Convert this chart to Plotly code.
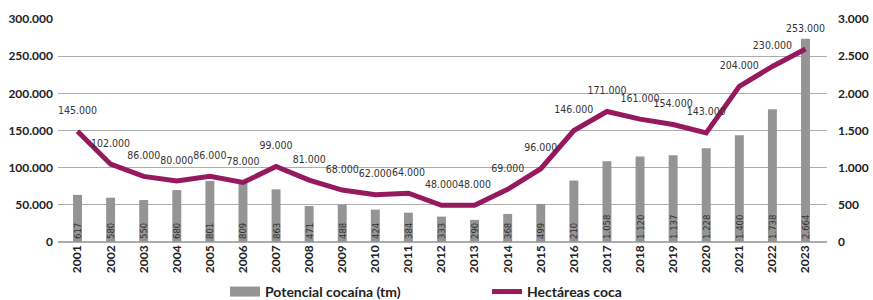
import plotly.graph_objects as go

years = [str(y) for y in range(2001, 2024)]
hectareas = [145000, 102000, 86000, 80000, 86000, 78000, 99000, 81000, 68000, 62000, 64000,
             48000, 48000, 69000, 96000, 146000, 171000, 161000, 154000, 143000, 204000, 230000, 253000]
cocaina_labels = [617, 580, 550, 680, 801, 809, 863, 471, 488, 424, 384,
                  333, 290, 368, 499, 210, 1058, 1120, 1137, 1228, 1400, 1738, 2664]
# bar heights as drawn in the picture (two bars differ from their printed labels)
cocaina_bars = [617, 580, 550, 680, 801, 809, 690, 471, 488, 424, 384,
                333, 290, 368, 499, 805, 1058, 1120, 1137, 1228, 1400, 1738, 2664]
left_ticks = [0, 50000, 100000, 150000, 200000, 250000, 300000]
right_ticks = [0, 500, 1000, 1500, 2000, 2500, 3000]

BAR_COLOR = "#949494"
LINE_COLOR = "#96185E"
SCALE = 0.974  # data scale vs. printed gridlines in the original picture
TICK_FONT = dict(family="Lato", size=12, color="#222222", weight="bold")
NARROW = "Liberation Sans Narrow, DejaVu Sans Condensed, Liberation Sans, sans-serif"

def fmt(v):
    return f"{v:,}".replace(",", ".")

fig = go.Figure()

# legend proxies
fig.add_trace(go.Scatter(x=[None], y=[None], mode="lines", name="Potencial cocaína (tm)",
                         line=dict(color=BAR_COLOR, width=10), yaxis="y2", hoverinfo="skip"))
fig.add_trace(go.Scatter(x=[None], y=[None], mode="lines", name="Hectáreas coca",
                         line=dict(color=LINE_COLOR, width=5), yaxis="y", hoverinfo="skip"))

bar_font = dict(family=NARROW, size=9.5, color="#333333")
fig.add_trace(go.Bar(
    x=years, y=cocaina_bars, yaxis="y3", marker=dict(color=BAR_COLOR, line=dict(width=0)),
    width=0.27, text=[fmt(v) for v in cocaina_labels], textposition="inside",
    insidetextanchor="start", textangle=-90, constraintext="none",
    textfont=bar_font, insidetextfont=bar_font, showlegend=False,
    cliponaxis=False))

fig.add_trace(go.Scatter(
    x=years, y=hectareas, yaxis="y4", mode="lines",
    line=dict(color=LINE_COLOR, width=5), showlegend=False))
fig.add_trace(go.Scatter(
    x=years, y=hectareas, yaxis="y4", mode="markers+text",
    marker=dict(size=22, color="rgba(0,0,0,0)"),
    text=[fmt(v) for v in hectareas], textposition="top center",
    textfont=dict(family=NARROW, size=10.5, color="#333333"),
    showlegend=False, cliponaxis=False))

fig.update_layout(
    width=873, height=300,
    margin=dict(l=58, r=46, t=19, b=57.5, autoexpand=False),
    paper_bgcolor="white", plot_bgcolor="white",
    showlegend=True,
    legend=dict(orientation="h", x=(225 - 58) / 769, xanchor="left", y=-0.224, yanchor="middle",
                font=dict(family="Lato", size=14, color="#222222", weight="bold"),
                entrywidth=217, entrywidthmode="pixels", traceorder="normal"),
    xaxis=dict(type="category", range=[-0.59, 22.65], tickangle=-90, showgrid=False,
               tickfont=TICK_FONT, ticks="", showline=False, automargin=False),
    yaxis=dict(range=[0, 300000], tickvals=left_ticks, ticktext=[fmt(v) for v in left_ticks],
               showgrid=True, gridcolor="#ADADAD", gridwidth=1, zeroline=True,
               zerolinecolor="#ADADAD", zerolinewidth=1.5, automargin=False,
               tickfont=TICK_FONT, ticks="", ticklabelstandoff=4),
    yaxis2=dict(range=[0, 3000], overlaying="y", side="right", tickvals=right_ticks,
                ticktext=[fmt(v) for v in right_ticks], showgrid=False, zeroline=False,
                automargin=False, tickfont=TICK_FONT, ticks="", ticklabelstandoff=10),
    yaxis3=dict(range=[0, 3000 * SCALE], overlaying="y", visible=False),
    yaxis4=dict(range=[0, 300000 * SCALE], overlaying="y", visible=False),
)

fig.write_html("out.html", config={"displayModeBar": False},
               post_script="document.body.style.margin='0';document.body.style.overflow='hidden';")
